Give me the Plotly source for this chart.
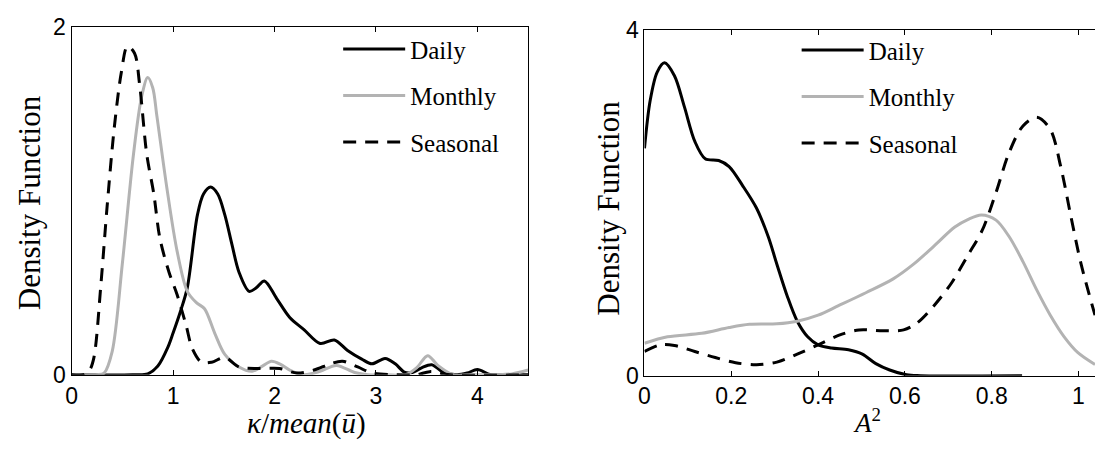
import plotly.graph_objects as go

# ---------------- data ----------------
# Left panel: kappa / mean(u)
left_daily_x = [0, 0.6, 0.75, 0.85, 0.95, 1.0, 1.07, 1.14, 1.24, 1.30, 1.37, 1.44, 1.51, 1.58, 1.65,
                1.75, 1.82, 1.90, 2.02, 2.15, 2.29, 2.45, 2.59, 2.72, 2.86, 2.96, 3.09, 3.19, 3.28,
                3.36, 3.45, 3.55, 3.66, 3.80, 3.90, 4.0, 4.13, 4.3, 4.5]
left_daily_y = [0, 0, 0.005, 0.05, 0.16, 0.24, 0.36, 0.50, 0.92, 1.04, 1.08, 1.04, 0.92, 0.75, 0.59,
                0.48, 0.50, 0.54, 0.44, 0.33, 0.26, 0.18, 0.20, 0.14, 0.09, 0.063, 0.094, 0.063, 0.015,
                0.013, 0.04, 0.058, 0.015, 0, 0.01, 0.03, 0, 0, 0]

left_monthly_x = [0, 0.25, 0.32, 0.40, 0.50, 0.61, 0.69, 0.75, 0.80, 0.84, 0.94, 1.04, 1.14, 1.23,
                  1.31, 1.41, 1.51, 1.65, 1.78, 1.88, 1.97, 2.06, 2.15, 2.29, 2.45, 2.61, 2.79, 2.92,
                  3.1, 3.29, 3.40, 3.51, 3.61, 3.76, 3.9, 4.2, 4.34, 4.5]
left_monthly_y = [0, 0, 0.01, 0.135, 0.64, 1.27, 1.60, 1.71, 1.65, 1.49, 1.07, 0.71, 0.48, 0.415,
                  0.38, 0.24, 0.117, 0.045, 0.02, 0.05, 0.078, 0.06, 0.027, 0.0, 0.02, 0.054, 0.013, 0,
                  0, 0, 0.04, 0.11, 0.054, 0, 0, 0, 0.005, 0.027]

left_seasonal_x = [0, 0.12, 0.18, 0.22, 0.29, 0.35, 0.42, 0.49, 0.55, 0.62, 0.67, 0.74, 0.81, 0.87,
                   0.96, 1.04, 1.13, 1.19, 1.28, 1.38, 1.51, 1.65, 1.85, 2.05, 2.22, 2.39, 2.55, 2.67,
                   2.82, 2.96, 3.2, 3.40, 3.53, 3.73, 4.5]
left_seasonal_y = [0, 0, 0.03, 0.1, 0.53, 0.97, 1.42, 1.74, 1.89, 1.85, 1.67, 1.27, 1.04, 0.785,
                   0.59, 0.46, 0.28, 0.15, 0.072, 0.072, 0.10, 0.045, 0.036, 0.036, 0.01, 0.027, 0.063,
                   0.078, 0.045, 0.01, 0, 0, 0.018, 0, 0]

# Right panel: A^2
right_daily_x = [0, 0.013, 0.029, 0.046, 0.069, 0.092, 0.116, 0.140, 0.171, 0.195, 0.226, 0.258,
                 0.285, 0.305, 0.329, 0.352, 0.376, 0.40, 0.431, 0.47, 0.502, 0.533, 0.565, 0.604,
                 0.636, 0.87]
right_daily_y = [2.63, 3.18, 3.51, 3.62, 3.47, 3.11, 2.71, 2.51, 2.49, 2.42, 2.20, 1.94,
                 1.61, 1.29, 0.92, 0.63, 0.45, 0.357, 0.32, 0.30, 0.25, 0.14, 0.066, 0.01,
                 0, 0]

right_monthly_x = [0, 0.053, 0.132, 0.195, 0.242, 0.305, 0.352, 0.40, 0.447, 0.51, 0.573, 0.62,
                   0.667, 0.715, 0.746, 0.776, 0.81, 0.84, 0.872, 0.904, 0.935, 0.967, 0.998, 1.038]
right_monthly_y = [0.375, 0.45, 0.49, 0.557, 0.594, 0.60, 0.63, 0.70, 0.81, 0.96, 1.12, 1.29,
                   1.50, 1.72, 1.81, 1.86, 1.80, 1.61, 1.32, 0.99, 0.70, 0.45, 0.27, 0.13]

right_seasonal_x = [0, 0.037, 0.069, 0.116, 0.163, 0.21, 0.258, 0.305, 0.352, 0.40, 0.447, 0.494,
                    0.55, 0.597, 0.628, 0.667, 0.707, 0.746, 0.778, 0.81, 0.84, 0.872, 0.904, 0.935,
                    0.959, 0.983, 1.006, 1.038]
right_seasonal_y = [0.28, 0.357, 0.35, 0.28, 0.21, 0.15, 0.127, 0.157, 0.25, 0.357, 0.466, 0.53,
                    0.52, 0.53, 0.61, 0.81, 1.07, 1.40, 1.68, 2.12, 2.58, 2.89, 2.99, 2.85,
                    2.42, 1.83, 1.29, 0.70]

series_names = ["Daily", "Monthly", "Seasonal"]
left_xticks = [0, 1, 2, 3, 4]
left_yticks = [0, 2]
right_xticks = [0, 0.2, 0.4, 0.6, 0.8, 1]
right_xticklabels = ["0", "0.2", "0.4", "0.6", "0.8", "1"]
right_yticks = [0, 4]

# ---------------- styles ----------------
W, H = 1095, 449
BLACK = "#000000"
GRAY = "#b3b3b3"
styles = [dict(color=BLACK, width=3, dash="solid"),
          dict(color=GRAY, width=3, dash="solid"),
          dict(color=BLACK, width=3, dash="13px,9px")]
SERIF = "Liberation Serif"
SANS = "Liberation Sans, Arial, sans-serif"

fig = go.Figure()

left_data = [(left_daily_x, left_daily_y), (left_monthly_x, left_monthly_y),
             (left_seasonal_x, left_seasonal_y)]
right_data = [(right_daily_x, right_daily_y), (right_monthly_x, right_monthly_y),
              (right_seasonal_x, right_seasonal_y)]

for i, (xs, ys) in enumerate(left_data):
    fig.add_trace(go.Scatter(x=xs, y=ys, mode="lines", name=series_names[i],
                             line=dict(shape="spline", smoothing=0.9, **styles[i]),
                             xaxis="x", yaxis="y", legend="legend",
                             legendgroup="L%d" % i))
for i, (xs, ys) in enumerate(right_data):
    fig.add_trace(go.Scatter(x=xs, y=ys, mode="lines", name=series_names[i],
                             line=dict(shape="spline", smoothing=0.9, **styles[i]),
                             xaxis="x2", yaxis="y2", legend="legend2",
                             legendgroup="R%d" % i))

def px_x(p):
    return p / W

def px_y(p):
    return 1 - p / H

axis_common = dict(showline=True, linecolor=BLACK, linewidth=1.3, ticks="inside", ticklen=5,
                   tickcolor=BLACK, tickwidth=1, showgrid=False, zeroline=False,
                   tickfont=dict(family=SANS, size=23, color=BLACK))

fig.update_layout(
    width=W, height=H,
    margin=dict(l=0, r=0, t=0, b=0),
    paper_bgcolor="white", plot_bgcolor="white",
    xaxis=dict(domain=[px_x(66), px_x(525)], range=[0, 4.5], anchor="y",
               tickvals=left_xticks, mirror="ticks", **axis_common),
    yaxis=dict(domain=[px_y(384), px_y(15)], range=[0, 2], anchor="x",
               tickvals=left_yticks, mirror=True, **axis_common),
    xaxis2=dict(domain=[px_x(642), 1.0], range=[0, 1.038], anchor="y2",
                tickvals=right_xticks, ticktext=right_xticklabels, mirror="ticks",
                **axis_common),
    yaxis2=dict(domain=[px_y(385), px_y(18)], range=[0, 4], anchor="x2",
                tickvals=right_yticks, mirror=False, **axis_common),
    legend=dict(x=px_x(334), y=px_y(14), xanchor="left", yanchor="top",
                bgcolor="rgba(0,0,0,0)", borderwidth=0, itemwidth=62,
                tracegroupgap=11, font=dict(family=SERIF, size=25, color=BLACK)),
    legend2=dict(x=px_x(795), y=px_y(15), xanchor="left", yanchor="top",
                 bgcolor="rgba(0,0,0,0)", borderwidth=0, itemwidth=62,
                 tracegroupgap=11, font=dict(family=SERIF, size=25, color=BLACK)),
    annotations=[
        dict(text="<i>κ</i>/<i>mean</i>(<i>ū</i>)", x=px_x(302), y=px_y(436), xref="paper",
             yref="paper", xanchor="center", yanchor="middle", showarrow=False,
             font=dict(family=SERIF, size=29, color=BLACK)),
        dict(text="<i>A</i><sup>2</sup>", x=px_x(866), y=px_y(433), xref="paper",
             yref="paper", xanchor="center", yanchor="middle", showarrow=False,
             font=dict(family=SERIF, size=27, color=BLACK)),
        dict(text="Density Function", x=px_x(23), y=px_y(201), xref="paper",
             yref="paper", xanchor="center", yanchor="middle", showarrow=False, textangle=-90,
             font=dict(family=SERIF, size=31, color=BLACK)),
        dict(text="Density Function", x=px_x(605), y=px_y(207), xref="paper",
             yref="paper", xanchor="center", yanchor="middle", showarrow=False, textangle=-90,
             font=dict(family=SERIF, size=31, color=BLACK)),
    ],
)

fig.write_html("out.html")
